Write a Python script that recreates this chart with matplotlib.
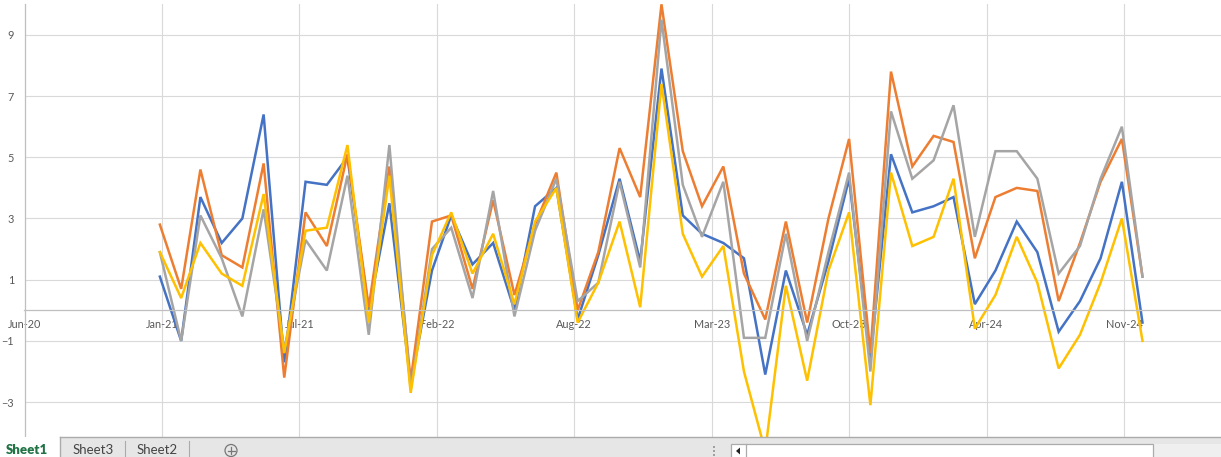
import pandas as pd
import matplotlib
matplotlib.use('Agg')
import matplotlib.pyplot as plt
import matplotlib.dates as mdates
from matplotlib.patches import Rectangle, Circle, Polygon


# monthly values, Jan-21 .. Dec-24
months = pd.date_range('2021-01-01', '2024-12-01', freq='MS')

blue = [1.1, -1.0, 3.7, 2.2, 3.0, 6.4, -1.7, 4.2, 4.1, 5.0,
        0.0, 3.5, -2.4, 1.3, 3.1, 1.5, 2.2, 0.0, 3.4, 4.0,
        -0.3, 1.8, 4.3, 1.6, 7.9, 3.1, 2.5, 2.2, 1.7, -2.1,
        1.3, -0.8, 1.6, 4.3, -1.6, 5.1, 3.2, 3.4, 3.7, 0.2,
        1.3, 2.9, 1.9, -0.7, 0.3, 1.7, 4.2, -0.4]
orange = [2.8, 0.7, 4.6, 1.8, 1.4, 4.8, -2.2, 3.2, 2.1, 5.1,
          0.1, 4.7, -2.3, 2.9, 3.1, 0.7, 3.6, 0.5, 2.8, 4.5,
          0.0, 1.9, 5.3, 3.7, 10.0, 5.2, 3.4, 4.7, 1.2, -0.3,
          2.9, -0.4, 3.0, 5.6, -1.4, 7.8, 4.7, 5.7, 5.5, 1.7,
          3.7, 4.0, 3.9, 0.3, 2.2, 4.2, 5.6, 1.1]
gray = [1.9, -1.0, 3.1, 1.7, -0.2, 3.3, -1.3, 2.3, 1.3, 4.4,
        -0.8, 5.4, -2.6, 2.0, 2.7, 0.4, 3.9, -0.2, 2.6, 4.3,
        0.3, 0.9, 4.2, 1.4, 9.5, 4.1, 2.4, 4.2, -0.9, -0.9,
        2.5, -1.0, 1.9, 4.5, -2.0, 6.5, 4.3, 4.9, 6.7, 2.4,
        5.2, 5.2, 4.3, 1.2, 2.1, 4.3, 6.0, 1.1]
yellow = [1.9, 0.4, 2.2, 1.2, 0.8, 3.8, -1.4, 2.6, 2.7, 5.4,
          -0.4, 4.4, -2.7, 1.8, 3.2, 1.2, 2.5, 0.2, 2.9, 4.0,
          -0.4, 0.9, 2.9, 0.1, 7.4, 2.5, 1.1, 2.1, -2.0, -4.6,
          0.8, -2.3, 1.3, 3.2, -3.1, 4.5, 2.1, 2.4, 4.3, -0.6,
          0.5, 2.4, 0.9, -1.9, -0.8, 0.9, 3.0, -1.0]

y_ticks = [-3, -1, 1, 3, 5, 7, 9]
sheet_names = ['Sheet1', 'Sheet3', 'Sheet2']

W, H = 1221, 457
plt.rcParams['font.family'] = ['Lato', 'DejaVu Sans']

fig = plt.figure(figsize=(W / 100, H / 100), dpi=100)

# plot area in pixels: left 24.5, top 4.3 (y=10), bottom 463.3 (y=-5), runs past right edge
left, top, bottom = 24.5, 4.3, 463.3
ax = fig.add_axes([left / W, 1 - bottom / H, (W - left) / W, (bottom - top) / H])

x0 = pd.Timestamp('2020-06-18')
px_per_day = 137.43 / 200
x1 = x0 + pd.Timedelta(days=(W - left) / px_per_day)
ax.set_xlim(x0, x1)
ax.set_ylim(-5, 10)

ax.plot(months, blue, color='#4472C4', lw=1.8, solid_joinstyle='miter')
ax.plot(months, orange, color='#ED7D31', lw=1.8, solid_joinstyle='miter')
ax.plot(months, gray, color='#A5A5A5', lw=1.8, solid_joinstyle='miter')
ax.plot(months, yellow, color='#FFC000', lw=1.8, solid_joinstyle='miter')

ax.set_xticks(pd.date_range(x0, periods=9, freq='200D'))
ax.xaxis.set_major_formatter(mdates.DateFormatter('%b-%y'))
ax.set_yticks(y_ticks)

ax.grid(True, color='#D9D9D9', lw=0.8)
ax.set_axisbelow(True)
for s in ['top', 'right']:
    ax.spines[s].set_visible(False)
ax.spines['bottom'].set_position(('data', 0))
ax.spines['bottom'].set_color('#BFBFBF')
ax.spines['left'].set_color('#BFBFBF')
ax.spines['bottom'].set_linewidth(0.9)
ax.spines['left'].set_linewidth(0.9)
ax.tick_params(axis='both', length=0, labelsize=7.8, labelcolor='#595959')
ax.tick_params(axis='x', pad=6.5)
ax.tick_params(axis='y', pad=7.5)

# Excel sheet tab bar along the bottom, drawn in pixel coords
ov = fig.add_axes([0, 0, 1, 1])
ov.set_xlim(0, W)
ov.set_ylim(H, 0)
ov.axis('off')
ov.set_zorder(5)

ov.add_patch(Rectangle((0, 437), W, 20, facecolor='#E6E6E6', edgecolor='none'))
ov.add_patch(Rectangle((0, 437), 60, 20, facecolor='white', edgecolor='none'))
ov.plot([60, W], [437.3, 437.3], color='#ABABAB', lw=1.0)
ov.plot([60, 60], [437, H], color='#ABABAB', lw=1.0)
for xs in [125, 189]:
    ov.plot([xs, xs], [441, H], color='#ABABAB', lw=0.8)

ov.text(27, 450.5, sheet_names[0], color='#217346', fontsize=9.5, fontweight='heavy',
        ha='center', va='center')
ov.text(93, 450.5, sheet_names[1], color='#444444', fontsize=9.5, ha='center', va='center')
ov.text(157, 450.5, sheet_names[2], color='#444444', fontsize=9.5, ha='center', va='center')

ov.add_patch(Circle((231, 450.5), 6, facecolor='none', edgecolor='#777777', lw=0.9))
ov.plot([227.5, 234.5], [450.5, 450.5], color='#777777', lw=0.9)
ov.plot([231, 231], [447, 454], color='#777777', lw=0.9)

for yd in [446.7, 450.7, 454.7]:
    ov.add_patch(Rectangle((713, yd - 1), 2, 2, facecolor='#A0A0A0', edgecolor='none'))

ov.add_patch(Rectangle((1153, 444.3), W - 1153, 13, facecolor='#EFEFEF', edgecolor='none'))
ov.add_patch(Rectangle((731, 444.3), 422, 14, facecolor='white', edgecolor='#ABABAB', lw=0.9))
ov.plot([745.5, 745.5], [444.3, H], color='#ABABAB', lw=0.9)
ov.add_patch(Polygon([[736, 451], [740, 447.5], [740, 454.5]], closed=True,
                     facecolor='#222222', edgecolor='none'))

fig.savefig('out.png', dpi=100, facecolor='white')
